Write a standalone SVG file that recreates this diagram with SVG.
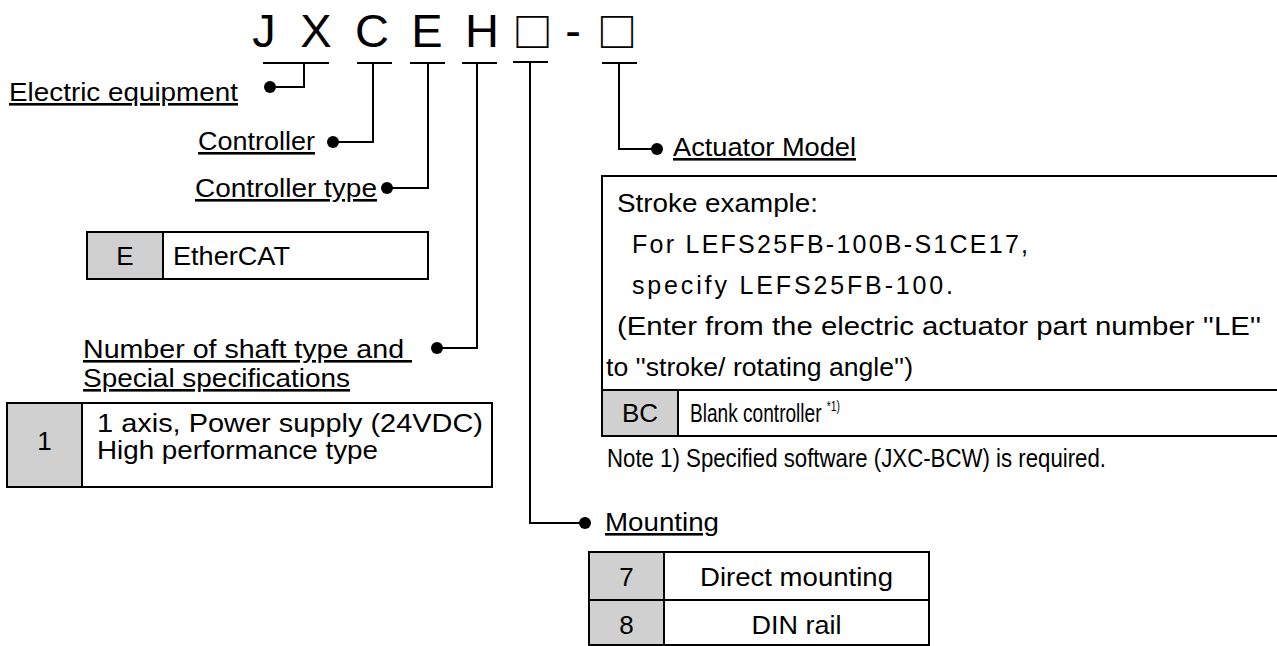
<svg xmlns="http://www.w3.org/2000/svg" width="1277" height="646" viewBox="0 0 1277 646">
<defs>
<style>
text{font-family:"Liberation Sans",Arial,"DejaVu Sans",sans-serif;fill:#000;}
.code{font-size:47px;}
.sq{font-family:"Noto Sans CJK JP","DejaVu Sans",sans-serif;font-size:40px;font-weight:700;}
.lbl{font-size:26px;text-decoration:underline;}
.t{font-size:26px;}
.t2{font-size:25px;}
.sp{font-size:25px;}
.sup{font-size:14px;}
.ln{fill:none;stroke:#000;stroke-width:2;}
.box{fill:#fff;stroke:#000;stroke-width:2;}
.gray{fill:#d0d0d0;stroke:#000;stroke-width:2;}
.dot{fill:#000;}
</style>
</defs>
<rect width="1277" height="646" fill="#fff"/>

<g id="code">
<text class="code" text-anchor="middle" x="264 316 372 427 482" y="47 47 47 47 47">JXCEH</text>
<text class="sq" text-anchor="middle" x="532.5" y="47">□</text>
<text class="code" text-anchor="middle" x="573" y="47">-</text>
<text class="sq" text-anchor="middle" x="617" y="47">□</text>
</g>

<g id="connectors">
<path class="ln" d="M263,63 H329 M304,63 V87 H270"/>
<circle class="dot" cx="270" cy="87" r="6"/>
<path class="ln" d="M357,63 H392 M373,63 V142 H333"/>
<circle class="dot" cx="333" cy="142" r="6"/>
<path class="ln" d="M410,63 H445 M428,63 V188 H387"/>
<circle class="dot" cx="387" cy="188" r="6"/>
<path class="ln" d="M462,63 H497 M477,63 V348 H437"/>
<circle class="dot" cx="437" cy="348" r="6"/>
<path class="ln" d="M513,62 H548 M530,62 V523 H585"/>
<circle class="dot" cx="585" cy="523" r="6"/>
<path class="ln" d="M602,63 H637 M619,63 V149 H657"/>
<circle class="dot" cx="657" cy="149" r="6"/>
</g>

<g id="electric-equipment">
<text class="lbl" x="9" y="101" textLength="229" lengthAdjust="spacingAndGlyphs">Electric equipment</text>
</g>

<g id="controller">
<text class="lbl" x="198" y="150" textLength="117" lengthAdjust="spacingAndGlyphs">Controller</text>
</g>

<g id="controller-type">
<text class="lbl" x="195" y="197" textLength="182" lengthAdjust="spacingAndGlyphs">Controller type</text>
<rect class="box" x="87" y="232" width="341" height="47"/>
<rect class="gray" x="87" y="232" width="76" height="47"/>
<text class="t" x="125" y="265" text-anchor="middle">E</text>
<text class="t" x="173" y="265" textLength="117" lengthAdjust="spacingAndGlyphs">EtherCAT</text>
</g>

<g id="shaft-type">
<text class="lbl" x="83" y="358" textLength="329" lengthAdjust="spacingAndGlyphs">Number of shaft type and&#160;</text>
<text class="lbl" x="83" y="387" textLength="267" lengthAdjust="spacingAndGlyphs">Special specifications</text>
<rect class="box" x="7" y="403" width="485" height="84"/>
<rect class="gray" x="7" y="403" width="75" height="84"/>
<text class="t" x="44.5" y="450" text-anchor="middle">1</text>
<text class="t2" x="97" y="432" textLength="386" lengthAdjust="spacingAndGlyphs">1 axis, Power supply (24VDC)</text>
<text class="t2" x="97" y="459" textLength="281" lengthAdjust="spacingAndGlyphs">High performance type</text>
</g>

<g id="actuator-model">
<text class="lbl" x="673" y="156" textLength="183" lengthAdjust="spacingAndGlyphs">Actuator Model</text>
<rect class="box" x="602" y="176" width="690" height="260"/>
<rect class="gray" x="602" y="390" width="76" height="46"/>
<path class="ln" d="M602,390 H1277"/>
<text class="t" x="617" y="212" textLength="201" lengthAdjust="spacingAndGlyphs">Stroke example:</text>
<text class="sp" x="632" y="253" textLength="396" lengthAdjust="spacing">For LEFS25FB-100B-S1CE17,</text>
<text class="sp" x="632" y="294" textLength="321" lengthAdjust="spacing">specify LEFS25FB-100.</text>
<text class="t" x="617" y="335" textLength="644" lengthAdjust="spacingAndGlyphs">(Enter from the electric actuator part number ''LE''</text>
<text class="t" x="606" y="376" textLength="307" lengthAdjust="spacingAndGlyphs">to ''stroke/ rotating angle'')</text>
<text class="t" x="640" y="422" text-anchor="middle">BC</text>
<text class="t" x="690" y="422" textLength="150" lengthAdjust="spacingAndGlyphs">Blank controller <tspan class="sup" dy="-11">*1)</tspan></text>
<text class="t" x="607" y="467" textLength="499" lengthAdjust="spacingAndGlyphs">Note 1) Specified software (JXC-BCW) is required.</text>
</g>

<g id="mounting">
<text class="lbl" x="605" y="531" textLength="114" lengthAdjust="spacingAndGlyphs">Mounting</text>
<rect class="box" x="589" y="552" width="340" height="93"/>
<rect class="gray" x="589" y="552" width="75" height="93"/>
<path class="ln" d="M589,600 H929"/>
<text class="t" x="626.5" y="586" text-anchor="middle">7</text>
<text class="t" x="796.5" y="586" text-anchor="middle" textLength="193" lengthAdjust="spacingAndGlyphs">Direct mounting</text>
<text class="t" x="626.5" y="634" text-anchor="middle">8</text>
<text class="t" x="796.5" y="634" text-anchor="middle" textLength="90" lengthAdjust="spacingAndGlyphs">DIN rail</text>
</g>
</svg>
